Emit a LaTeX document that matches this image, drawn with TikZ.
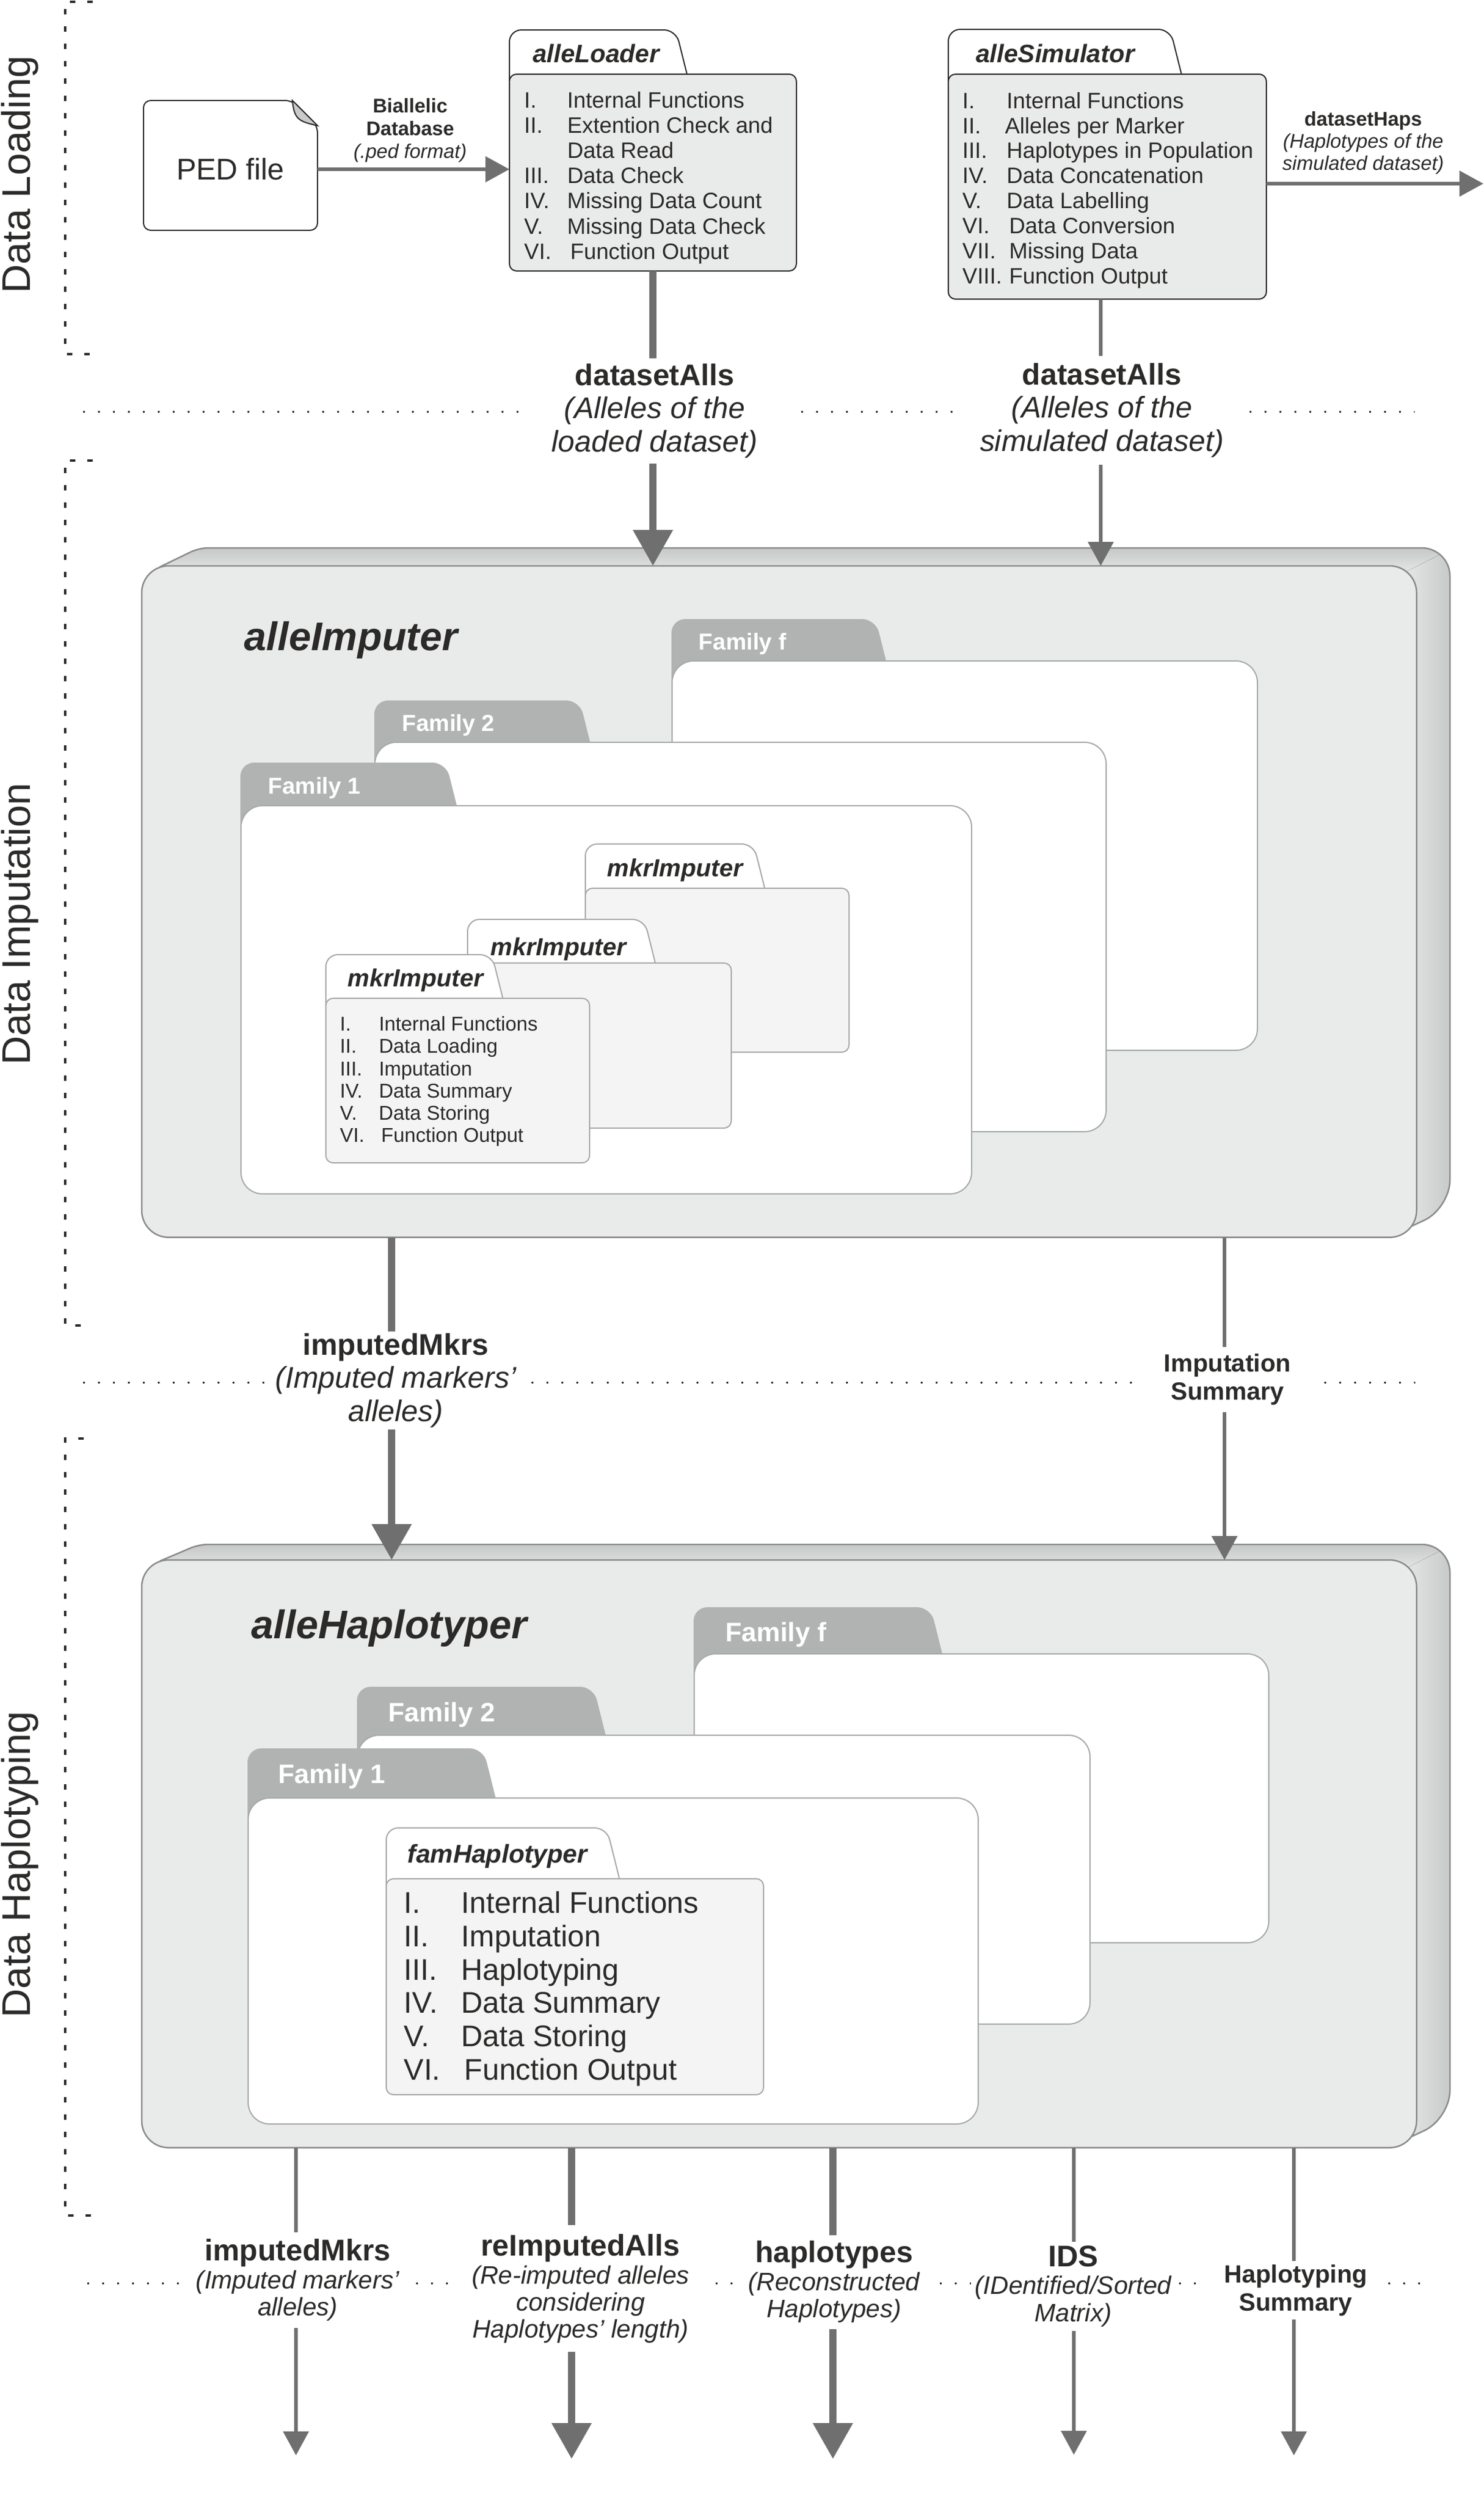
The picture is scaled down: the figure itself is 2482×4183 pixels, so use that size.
\documentclass[tikz,border=0pt]{standalone}
\usepackage{fontspec}
\setmainfont{Liberation Sans}
\usetikzlibrary{arrows.meta}

\definecolor{textdark}{HTML}{2B2A29}
\definecolor{arrowgray}{HTML}{6F6F6F}
\definecolor{panelgray}{HTML}{E9EBEA}
\definecolor{slabdark}{HTML}{C6C8C7}
\definecolor{slabedge}{HTML}{8A8A8A}
\definecolor{tabgray}{HTML}{B1B3B2}
\definecolor{softedge}{HTML}{A6A8A7}
\definecolor{softpanel}{HTML}{F4F4F4}
\definecolor{foldgray}{HTML}{C9CBCA}

\tikzstyle{thickarrow} = [-{Triangle[length=6mm,width=6.4mm]}, line width=1.2mm, color=arrowgray]
\tikzstyle{thinarrow} = [-{Triangle[length=4mm,width=4.2mm]}, line width=0.6mm, color=arrowgray]
\tikzstyle{sidetitle} = [rotate=90, anchor=base, font=\fontsize{19}{22}\selectfont]
\tikzstyle{sidebracket} = [line width=0.35mm, color=textdark, dash pattern=on 0.9mm off 2mm]
\tikzstyle{sepline} = [line width=0.3mm, color=textdark, dash pattern=on 0.3mm off 2.2mm]
\tikzstyle{flowlabel} = [fill=white, align=center, inner sep=0, font=\itshape\fontsize{14.2}{15.8}\selectfont]
\tikzstyle{outlabel} = [fill=white, align=center, inner sep=0, font=\itshape\fontsize{12}{12.8}\selectfont]
\tikzstyle{boldlabel} = [fill=white, align=center, inner sep=0, font=\bfseries\fontsize{11.8}{13.4}\selectfont]
\tikzstyle{smalllabel} = [align=center, inner sep=0, font=\itshape\fontsize{9.4}{10.5}\selectfont]
\tikzstyle{slabfront} = [draw=slabedge, fill=panelgray, line width=0.25mm, rounded corners=4.5mm, inner sep=0, outer sep=0]
\tikzstyle{hardtab} = [draw=textdark, fill=white, line width=0.2mm, rounded corners=2mm]
\tikzstyle{hardbody} = [draw=textdark, fill=panelgray, line width=0.2mm, rounded corners=1.2mm, inner sep=0, outer sep=0]
\tikzstyle{famtab} = [draw=tabgray, fill=tabgray, line width=0.2mm, rounded corners=2.2mm]
\tikzstyle{fambody} = [draw=softedge, fill=white, line width=0.2mm, rounded corners=3.6mm, inner sep=0, outer sep=0]
\tikzstyle{softtab} = [draw=softedge, fill=white, line width=0.2mm, rounded corners=2mm]
\tikzstyle{softbody} = [draw=softedge, fill=softpanel, line width=0.2mm, rounded corners=1.2mm, inner sep=0, outer sep=0]
\tikzstyle{famtitle} = [text=white, font=\bfseries\fontsize{11}{13}\selectfont]
\tikzstyle{blocktitle} = [font=\bfseries\itshape\fontsize{19}{22}\selectfont]
\tikzstyle{tabtitle} = [font=\bfseries\itshape\fontsize{11.7}{15}\selectfont]
\tikzstyle{listtext} = [anchor=west, align=left, inner sep=0]

% tab style, body style, name, left, tab top, body top, tab right, right, bottom
\newcommand{\folder}[9]{
  \draw[#1] (#4,#6+40) -- (#4,#5) -- ({#7-0.25*(#6-#5)},#5) -- (#7,#6);
  \node[#2, anchor=north west, minimum width={(#8-#4)*0.01cm}, minimum height={(#9-#6)*0.01cm}] (#3) at (#4,#6) {};
}
% back top, front top, front bottom
\newcommand{\slabpath}[3]{[rounded corners=1.5mm] (267,#2+2) -- (333,#1) [rounded corners=4.7mm] -- (2425,#1) -- (2425,#3-48) [rounded corners=1.5mm] -- (2350,#3-13)}
\newcommand{\slab}[3]{
  \begin{scope}
    \clip \slabpath{#1}{#2}{#3} -- cycle;
    \fill[top color=slabdark, bottom color=panelgray] (250,#1) -- (2430,#1) -- (2340,#1+46) -- (250,#1+46) -- cycle;
    \fill[left color=panelgray, right color=slabdark] (2430,#1) -- (2340,#1+46) -- (2340,#3) -- (2430,#3) -- cycle;
  \end{scope}
  \draw[slabedge, line width=0.25mm] \slabpath{#1}{#2}{#3};
}
\newcommand{\rowitem}[3]{\makebox[#1][l]{#2}#3}
\newcommand{\boldline}[1]{{\bfseries\upshape\fontsize{14.2}{15.8}\selectfont #1}}

\begin{document}
\begin{tikzpicture}[x=0.01cm, y=-0.01cm, every node/.style={text=textdark}]
      \useasboundingbox (0,0) rectangle (2482,4183);

      % side titles and brackets
      \node[sidetitle] (titleload) at (51,292) {Data Loading};
      \node[sidetitle] (titleimp) at (51,1545) {Data Imputation};
      \node[sidetitle] (titlehap) at (51,3117) {Data Haplotyping};
      \draw[sidebracket] (155,3) -- (109,3) -- (109,592) -- (155,592);
      \draw[sidebracket] (155,770) -- (109,770) -- (109,2216) -- (140,2216);
      \draw[sidebracket] (140,2405) -- (109,2405) -- (109,3704) -- (155,3704);

      \draw[sepline] (139,688) -- (2366,688);
      \draw[sepline] (139,2311) -- (2367,2311);
      \draw[sepline] (146,3817) -- (2375,3817);

      % imputation block
      \slab{916}{946}{2068}
      \node[slabfront, anchor=north west, minimum width=21.31cm, minimum height=11.22cm] (imputer) at (237,946) {};
      \node[blocktitle] (imputertitle) at (587,1070) {alleImputer};

      \folder{famtab}{fambody}{famf}{1124}{1036}{1105}{1481}{2103}{1756}
      \node[famtitle] (famflabel) at (1242,1076) {Family f};
      \folder{famtab}{fambody}{famb}{627}{1172}{1241}{986}{1850}{1892}
      \node[famtitle] (famblabel) at (750,1212) {Family 2};
      \folder{famtab}{fambody}{fama}{403}{1276}{1347}{763}{1625}{1996}
      \node[famtitle] (famalabel) at (526,1317) {Family 1};

      \folder{softtab}{softbody}{mkrc}{979}{1411}{1485}{1279}{1420}{1759}
      \node[tabtitle] (mkrclabel) at (1129,1455) {mkrImputer};
      \folder{softtab}{softbody}{mkrb}{782}{1537}{1610}{1096}{1223}{1886}
      \node[tabtitle] (mkrblabel) at (934,1587) {mkrImputer};
      \folder{softtab}{softbody}{mkra}{545}{1596}{1669}{841}{986}{1944}
      \node[tabtitle] (mkralabel) at (695,1639) {mkrImputer};
      \node[listtext, font=\fontsize{9.5}{10.6}\selectfont] (mkrlist) at (568,1808) {
        \rowitem{6.5mm}{I.}{Internal Functions}\\
        \rowitem{6.5mm}{II.}{Data Loading}\\
        \rowitem{6.5mm}{III.}{Imputation}\\
        \rowitem{6.5mm}{IV.}{Data Summary}\\
        \rowitem{6.5mm}{V.}{Data Storing}\\
        \rowitem{6.5mm}{VI.}{\hspace{0.4mm}Function Output}};

      % haplotyping block
      \slab{2582}{2608}{3590}
      \node[slabfront, anchor=north west, minimum width=21.31cm, minimum height=9.82cm] (haplotyper) at (237,2608) {};
      \node[blocktitle] (haplotypertitle) at (651,2722) {alleHaplotyper};

      \folder{famtab}{fambody}{hapf}{1161}{2688}{2765}{1575}{2122}{3248}
      \node[famtitle, font=\bfseries\fontsize{12.7}{15}\selectfont] (hapflabel) at (1298,2733) {Family f};
      \folder{famtab}{fambody}{hapb}{598}{2821}{2901}{1012}{1823}{3384}
      \node[famtitle, font=\bfseries\fontsize{12.7}{15}\selectfont] (hapblabel) at (739,2867) {Family 2};
      \folder{famtab}{fambody}{hapa}{415}{2924}{3006}{828}{1636}{3551}
      \node[famtitle, font=\bfseries\fontsize{12.7}{15}\selectfont] (hapalabel) at (555,2970) {Family 1};

      \folder{softtab}{softbody}{fam}{646}{3056}{3141}{1036}{1277}{3502}
      \node[tabtitle, font=\bfseries\itshape\fontsize{12.2}{15}\selectfont] (famlabel) at (832,3103) {famHaplotyper};
      \node[listtext, font=\fontsize{14.2}{15.9}\selectfont] (famlist) at (675,3325) {
        \rowitem{9.6mm}{I.}{Internal Functions}\\
        \rowitem{9.6mm}{II.}{Imputation}\\
        \rowitem{9.6mm}{III.}{Haplotyping}\\
        \rowitem{9.6mm}{IV.}{Data Summary}\\
        \rowitem{9.6mm}{V.}{Data Storing}\\
        \rowitem{9.6mm}{VI.}{\hspace{0.5mm}Function Output}};

      % loading
      \draw[fill=white, draw=textdark, line width=0.2mm, rounded corners=1.2mm] (240,168) -- (489,168) -- (531,210) -- (531,385) -- (240,385) -- cycle;
      \draw[fill=foldgray, draw=textdark, line width=0.2mm] (489,168) .. controls (492,200) and (500,203) .. (531,210) -- cycle;
      \node[minimum width=2.91cm, minimum height=2cm, inner sep=0, outer sep=0, font=\fontsize{14.2}{17}\selectfont] (ped) at (385.5,283) {PED file};

      \folder{hardtab}{hardbody}{loader}{852}{50}{124}{1149}{1332}{453}
      \node[tabtitle, font=\bfseries\itshape\fontsize{12}{15}\selectfont] (loaderlabel) at (997,89) {alleLoader};
      \node[listtext, font=\fontsize{10.6}{12}\selectfont] (loaderlist) at (876,297) {
        \rowitem{7.2mm}{I.}{Internal Functions}\\
        \rowitem{7.2mm}{II.}{Extention Check and}\\
        \rowitem{7.2mm}{}{Data Read}\\
        \rowitem{7.2mm}{III.}{Data Check}\\
        \rowitem{7.2mm}{IV.}{Missing Data Count}\\
        \rowitem{7.2mm}{V.}{Missing Data Check}\\
        \rowitem{7.2mm}{VI.}{\hspace{0.5mm}Function Output}};

      \folder{hardtab}{hardbody}{simulator}{1586}{49}{124}{1976}{2118}{500}
      \node[tabtitle, font=\bfseries\itshape\fontsize{12}{15}\selectfont] (simulatorlabel) at (1765,89) {alleSimulator};
      \node[listtext, font=\fontsize{10.6}{11.9}\selectfont] (simulatorlist) at (1609,318) {
        \rowitem{7.4mm}{I.}{Internal Functions}\\
        \rowitem{7.4mm}{II.}{\hspace{-0.3mm}Alleles per Marker}\\
        \rowitem{7.4mm}{III.}{Haplotypes in Population}\\
        \rowitem{7.4mm}{IV.}{Data Concatenation}\\
        \rowitem{7.4mm}{V.}{Data Labelling}\\
        \rowitem{7.4mm}{VI.}{\hspace{0.4mm}Data Conversion}\\
        \rowitem{7.4mm}{VII.}{\hspace{0.4mm}Missing Data}\\
        \rowitem{7.4mm}{VIII.}{\hspace{0.4mm}Function Output}};

      \coordinate (hapsout) at (2481,307);
      \coordinate (simline) at (1841,560);
      \coordinate (mkrsline) at (655,2300);
      \coordinate (summline) at (2048,2300);
      \coordinate (outa) at (495,4105);
      \coordinate (outb) at (956,4111);
      \coordinate (outc) at (1393,4111);
      \coordinate (outd) at (1796,4104);
      \coordinate (oute) at (2164,4105);

      \draw[thinarrow] (ped.east) -- (ped.east -| loader.west);
      \draw[thinarrow] (hapsout -| simulator.east) -- (hapsout);
      \draw[thickarrow] (loader.south) -- (loader.south |- imputer.north);
      \draw[thinarrow] (simline |- simulator.south) -- (simline |- imputer.north);
      \draw[thickarrow] (mkrsline |- imputer.south) -- (mkrsline |- haplotyper.north);
      \draw[thinarrow] (summline |- imputer.south) -- (summline |- haplotyper.north);
      \draw[thinarrow] (outa |- haplotyper.south) -- (outa);
      \draw[thickarrow] (outb |- haplotyper.south) -- (outb);
      \draw[thickarrow] (outc |- haplotyper.south) -- (outc);
      \draw[thinarrow] (outd |- haplotyper.south) -- (outd);
      \draw[thinarrow] (oute |- haplotyper.south) -- (oute);

      % labels on the connectors
      \node[smalllabel] (biallelic) at (686,218) {\textbf{\textup{Biallelic}}\\[0.3pt]\textbf{\textup{Database}}\\[0.3pt](.ped format)};
      \node[smalllabel] (haps) at (2280,239) {\textbf{\textup{datasetHaps}}\\(Haplotypes of the\\simulated dataset)};

      \node[flowlabel, minimum width=4.5cm, minimum height=1.76cm] (allsa) at (1095,687) {\boldline{datasetAlls}\\(Alleles of the\\loaded dataset)};
      \node[flowlabel, minimum width=4.65cm, minimum height=1.82cm] (allsb) at (1843,686) {\boldline{datasetAlls}\\(Alleles of the\\simulated dataset)};
      \node[flowlabel, minimum width=4.25cm, minimum height=1.63cm] (mkrs) at (662,2308) {\boldline{imputedMkrs}\\(Imputed markers’\\alleles)};
      \node[boldlabel, minimum width=3.19cm, minimum height=1.09cm] (impsumm) at (2053,2306) {Imputation\\Summary};

      \node[outlabel, minimum width=3.94cm, minimum height=1.6cm] (labela) at (498,3812) {\boldline{imputedMkrs}\\[0.5pt](Imputed markers’\\alleles)};
      \node[outlabel, minimum width=4.41cm, minimum height=2.12cm] (labelb) at (971,3826) {\boldline{reImputedAlls}\\[0.5pt](Re-imputed alleles\\considering\\Haplotypes’ length)};
      \node[outlabel, minimum width=3.39cm, minimum height=1.57cm] (labelc) at (1395,3815) {\boldline{haplotypes}\\[0.5pt](Reconstructed\\Haplotypes)};
      \node[outlabel, minimum width=3.42cm, minimum height=1.49cm] (labeld) at (1795,3822) {\boldline{IDS}\\[0.5pt](IDentified/Sorted\\Matrix)};
      \node[boldlabel, minimum width=2.89cm, minimum height=0.98cm] (labele) at (2167,3829) {Haplotyping\\Summary};
    \end{tikzpicture}
\end{document}
